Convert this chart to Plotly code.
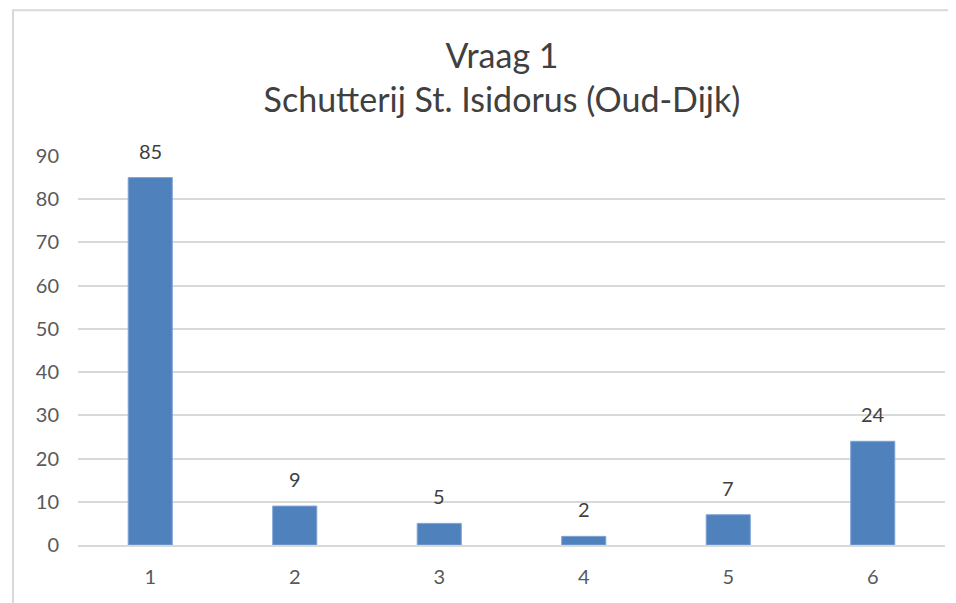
import plotly.graph_objects as go

categories = [1, 2, 3, 4, 5, 6]
values = [85, 9, 5, 2, 7, 24]
y_ticks = [0, 10, 20, 30, 40, 50, 60, 70, 80, 90]

FONT = "Lato"
fig = go.Figure()
fig.add_trace(go.Bar(
    x=categories, y=values,
    width=0.305,
    marker=dict(color="#4F81BD", line=dict(color="#7FA3D3", width=1)),
    hoverinfo="x+y",
))
for c, v in zip(categories, values):
    fig.add_annotation(x=c, y=v, text=str(v), showarrow=False,
                       yanchor="bottom", yshift=13,
                       font=dict(family=FONT, size=20, color="#404040"))

fig.add_shape(type="rect", xref="paper", yref="paper",
              x0=-0.075, x1=1.2, y0=-0.3, y1=1.375,
              line=dict(color="#D9D9D9", width=2), layer="below")

fig.update_layout(
    width=948, height=595,
    margin=dict(l=70, r=11, t=148, b=58),
    paper_bgcolor="white", plot_bgcolor="white",
    showlegend=False,
    title=dict(text="Vraag 1<br>Schutterij St. Isidorus (Oud-Dijk)",
               x=0.489, xref="paper", xanchor="center",
               y=0.90, yref="container", yanchor="top",
               font=dict(family=FONT, size=34, color="#404040")),
    xaxis=dict(range=[0.5, 6.5], tickvals=categories, ticktext=[str(c) for c in categories],
               showgrid=False, showline=True, linecolor="#D9D9D9", linewidth=1.5,
               zeroline=False,
               tickfont=dict(family=FONT, size=20, color="#595959"),
               ticks="", ticklabelstandoff=13),
    yaxis=dict(range=[0, 90], tickvals=y_ticks, showgrid=True, gridcolor="#D9D9D9",
               gridwidth=1.5, zeroline=False, showline=False,
               tickfont=dict(family=FONT, size=20, color="#595959"),
               ticks="", ticklabelstandoff=18),
)
fig.write_html("out.html")
